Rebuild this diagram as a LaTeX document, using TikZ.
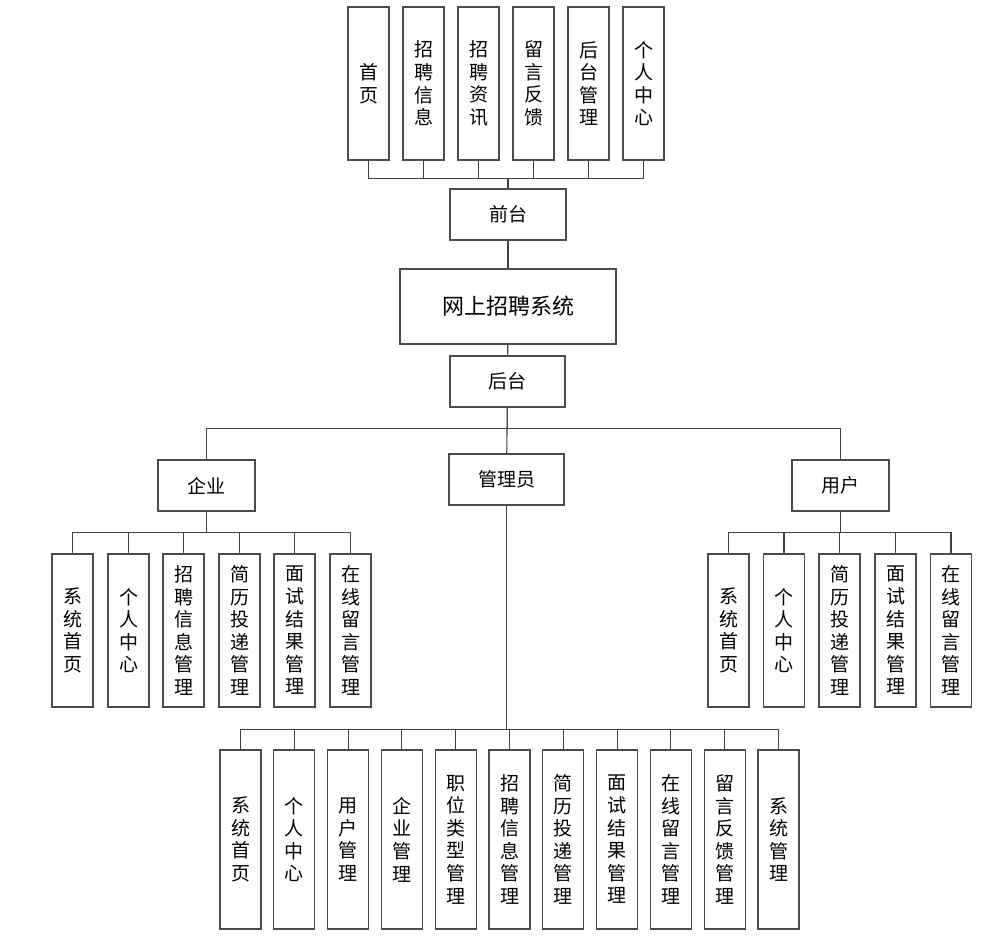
\documentclass[tikz,border=0pt]{standalone}
\usepackage{fontspec}
\setmainfont{Noto Sans CJK SC}
\usepackage{tikz}

\begin{document}
\begin{tikzpicture}[x=1pt,y=-1pt,
    box/.style={draw=black!70,line width=1.1pt,fill=white,inner sep=0pt,align=center,
      font=\fontsize{19}{22.6}\selectfont},
    tallbox/.style={box,minimum width=41pt,minimum height=153pt},
    longbox/.style={box,minimum width=41pt,minimum height=179pt},
    link/.style={draw=black!75,line width=1.1pt}]
      \useasboundingbox (0,0) rectangle (992,950);
      % front end
      \node[tallbox] (t1) at (368.5,83.5) {首\\页};
      \node[tallbox] (t2) at (423.5,83.5) {招\\聘\\信\\息};
      \node[tallbox] (t3) at (478.5,83.5) {招\\聘\\资\\讯};
      \node[tallbox] (t4) at (533.5,83.5) {留\\言\\反\\馈};
      \node[tallbox] (t5) at (588.5,83.5) {后\\台\\管\\理};
      \node[tallbox] (t6) at (643.5,83.5) {个\\人\\中\\心};
      \node[box,minimum width=116pt,minimum height=51pt] (qiantai) at (508,214.5) {前台};
      \node[box,minimum width=216pt,minimum height=75pt,font=\fontsize{22}{26}\selectfont] (sys) at (508,306.5) {网上招聘系统};
      \node[box,minimum width=115pt,minimum height=51pt] (houtai) at (507.5,381.5) {后台};
      % back end
      \node[box,minimum width=97pt,minimum height=51pt] (qiye) at (206.5,485.5) {企业};
      \node[box,minimum width=115pt,minimum height=51pt] (admin) at (506.5,479.5) {管理员};
      \node[box,minimum width=97pt,minimum height=51pt] (yonghu) at (840.5,485.5) {用户};
      % company
      \node[tallbox] (e1) at (72.5,630.5) {系\\统\\首\\页};
      \node[tallbox] (e2) at (128.5,630.5) {个\\人\\中\\心};
      \node[tallbox] (e3) at (183.5,630.5) {招\\聘\\信\\息\\管\\理};
      \node[tallbox] (e4) at (239.5,630.5) {简\\历\\投\\递\\管\\理};
      \node[tallbox] (e5) at (294.5,630.5) {面\\试\\结\\果\\管\\理};
      \node[tallbox] (e6) at (350.5,630.5) {在\\线\\留\\言\\管\\理};
      % user
      \node[tallbox] (u1) at (728.5,630.5) {系\\统\\首\\页};
      \node[tallbox] (u2) at (784,630.5) {个\\人\\中\\心};
      \node[tallbox] (u3) at (839.5,630.5) {简\\历\\投\\递\\管\\理};
      \node[tallbox] (u4) at (895.5,630.5) {面\\试\\结\\果\\管\\理};
      \node[tallbox] (u5) at (951,630.5) {在\\线\\留\\言\\管\\理};
      % administrator
      \node[longbox] (a1) at (240.5,839.5) {系\\统\\首\\页};
      \node[longbox] (a2) at (294.3,839.5) {个\\人\\中\\心};
      \node[longbox] (a3) at (348.1,839.5) {用\\户\\管\\理};
      \node[longbox] (a4) at (401.9,839.5) {企\\业\\管\\理};
      \node[longbox] (a5) at (455.7,839.5) {职\\位\\类\\型\\管\\理};
      \node[longbox] (a6) at (509.5,839.5) {招\\聘\\信\\息\\管\\理};
      \node[longbox] (a7) at (563.3,839.5) {简\\历\\投\\递\\管\\理};
      \node[longbox] (a8) at (617.1,839.5) {面\\试\\结\\果\\管\\理};
      \node[longbox] (a9) at (670.9,839.5) {在\\线\\留\\言\\管\\理};
      \node[longbox] (a10) at (724.7,839.5) {留\\言\\反\\馈\\管\\理};
      \node[longbox] (a11) at (778.5,839.5) {系\\统\\管\\理};
      % connectors
      \foreach \n in {t1,t2,t3,t4,t5,t6}
        \draw[link] (qiantai.north) -- ++(0,-10) -| (\n.south);
      \draw[link] (qiantai) -- (sys);
      \draw[link] (sys) -- (houtai);
      \draw[link] (houtai.south) -- ++(0,21) -| (qiye.north);
      \draw[link] (houtai.south) -- ++(0,21) -| (yonghu.north);
      \draw[link] (houtai) -- (admin);
      \foreach \n in {e1,e2,e3,e4,e5,e6}
        \draw[link] (qiye.south) -- ++(0,21) -| (\n.north);
      \foreach \n in {u1,u2,u3,u4,u5}
        \draw[link] (yonghu.south) -- ++(0,21) -| (\n.north);
      \foreach \n in {a1,a2,a3,a4,a5,a6,a7,a8,a9,a10,a11}
        \draw[link] (admin.south) -- ++(0,224) -| (\n.north);
\end{tikzpicture}
\end{document}
